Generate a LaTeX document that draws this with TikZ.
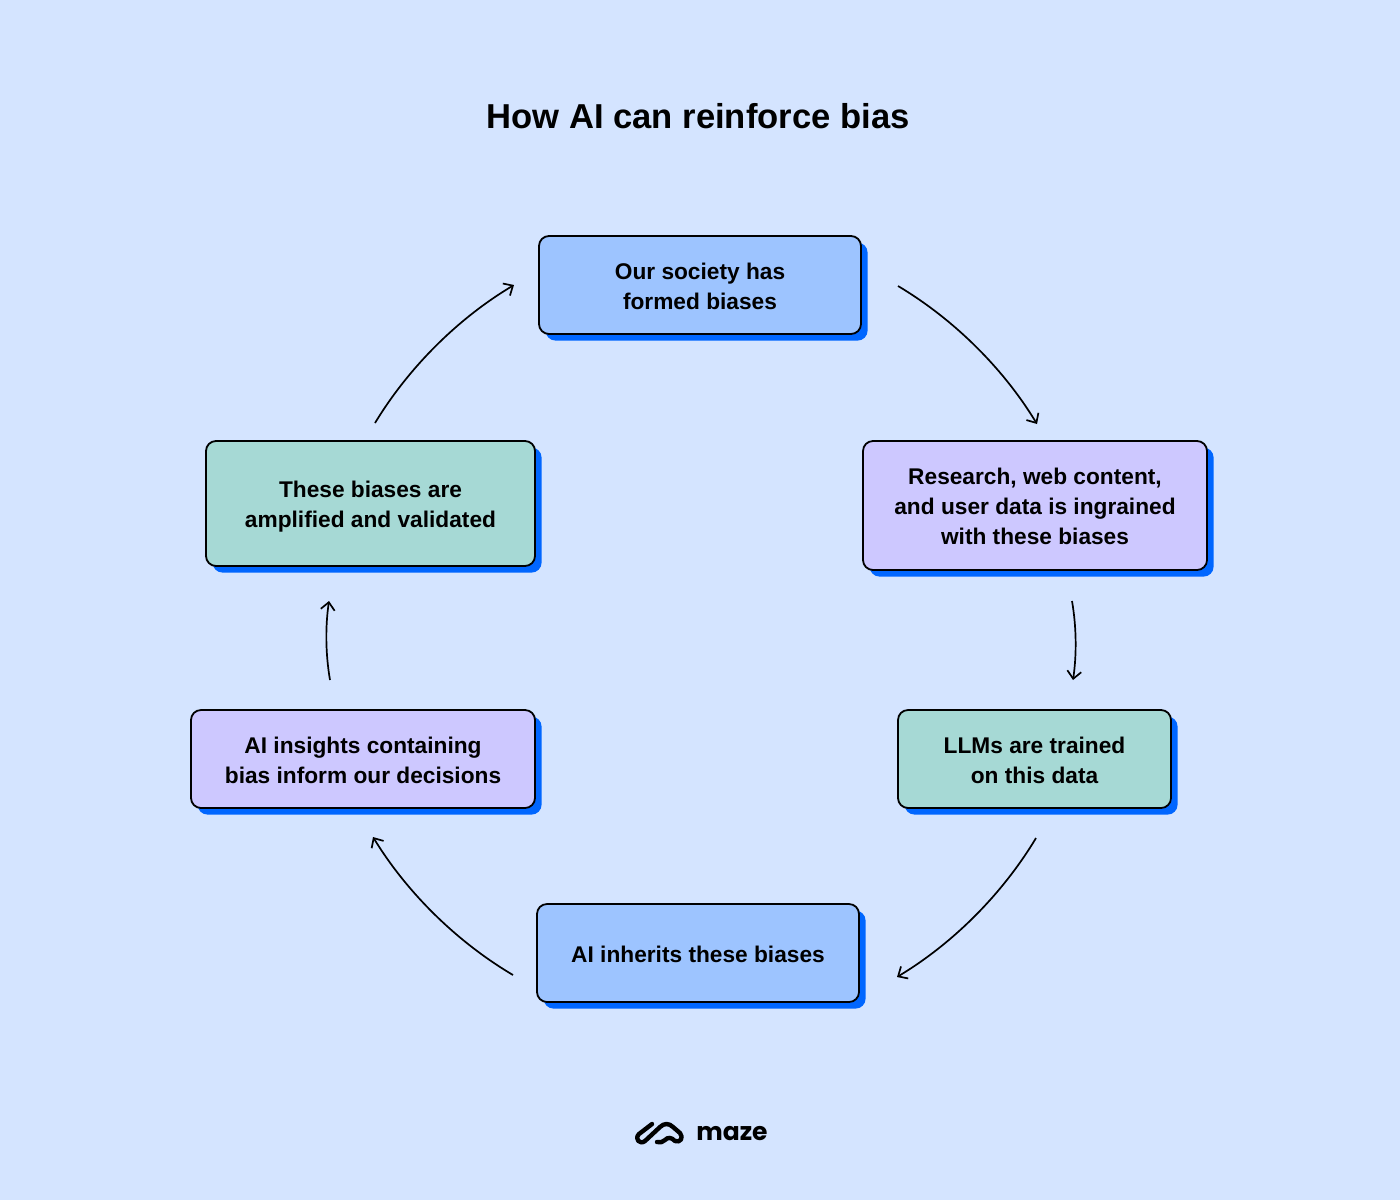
\documentclass[tikz,border=0pt]{standalone}
\usepackage{fontspec}
\setmainfont{Liberation Sans}
\newfontfamily\logofont{Poppins}
\usepackage{tikz}
\usetikzlibrary{shadows, arrows.meta, positioning}
\definecolor{backblue}{RGB}{212, 228, 255}
\definecolor{boxblue}{RGB}{157, 196, 255}
\definecolor{boxviolet}{RGB}{205, 200, 255}
\definecolor{boxgreen}{RGB}{166, 217, 213}
\definecolor{shadeblue}{RGB}{0, 102, 255}
\tikzset{
    stagenode/.style = {draw=black, rectangle, rounded corners=5pt, line width=0.9pt, align=center,
      font=\fontsize{11.35}{15}\selectfont\bfseries, inner sep=0pt,
      general shadow={shadow xshift=3.3pt, shadow yshift=-3.3pt, fill=shadeblue, draw=none}},
    textdrop/.style = {execute at begin node={\rule{0pt}{#1}}},
    titlenode/.style = {draw=none, font=\fontsize{17.3}{22}\selectfont\bfseries},
    connect/.style = {black, line width=0.85pt, looseness=0.85, -{Straight Barb[length=3.8pt,width=7pt]}},
    logoline/.style = {black, line width=2.2pt, line cap=round, line join=round}
}
\begin{document}
\begin{tikzpicture}[x=0.5pt, y=-0.5pt]
    \fill[backblue] (0,0) rectangle (1400,1200);
    \useasboundingbox (0,0) rectangle (1400,1200);

    \node [name=title, titlenode] at (698,116) {How AI can reinforce bias};

    \node [name=society, stagenode, textdrop=24.3pt, fill=boxblue, minimum width=161pt, minimum height=49pt] at (700,285) {Our society has\\formed biases};
    \node [name=research, stagenode, textdrop=39.3pt, fill=boxviolet, minimum width=172pt, minimum height=64.5pt] at (1035,505.5) {Research, web content,\\and user data is ingrained\\with these biases};
    \node [name=llms, stagenode, textdrop=24.3pt, fill=boxgreen, minimum width=136.5pt, minimum height=49pt] at (1034.5,759) {LLMs are trained\\on this data};
    \node [name=inherits, stagenode, textdrop=9.3pt, fill=boxblue, minimum width=161pt, minimum height=49pt] at (698,953) {AI inherits these biases};
    \node [name=insights, stagenode, textdrop=24.3pt, fill=boxviolet, minimum width=172pt, minimum height=49pt] at (363,759) {AI insights containing\\bias inform our decisions};
    \node [name=amplified, stagenode, textdrop=26.3pt, fill=boxgreen, minimum width=164.5pt, minimum height=62.5pt] at (370.5,503.5) {These biases are\\amplified and validated};

    \coordinate (a1) at (898,286);   \coordinate (b1) at (1037,424);
    \coordinate (a2) at (1072,601);  \coordinate (b2) at (1073,680);
    \coordinate (a3) at (1036,838);  \coordinate (b3) at (897,977);
    \coordinate (a4) at (513,975);   \coordinate (b4) at (373,837);
    \coordinate (a5) at (330,680);   \coordinate (b5) at (329,601);
    \coordinate (a6) at (375,423);   \coordinate (b6) at (514,285);
    \draw [connect] (a1) to[bend left=14] (b1);
    \draw [connect] (a2) to[bend left=9] (b2);
    \draw [connect] (a3) to[bend left=14] (b3);
    \draw [connect] (a4) to[bend left=14] (b4);
    \draw [connect] (a5) to[bend left=9] (b5);
    \draw [connect] (a6) to[bend left=14] (b6);

    % logo
    \draw [logoline] (652,1124) -- (639,1134) .. controls (634,1139) and (640,1145) .. (645,1141) -- (660,1127) .. controls (664,1123) and (669,1123) .. (673,1127) -- (680,1133) .. controls (684,1138) and (680,1143) .. (675,1141) .. controls (671,1137) and (668,1137) .. (665,1140) .. controls (663,1142) and (660,1143) .. (657,1142);
    \node [name=maze, draw=none, font=\logofont\fontsize{12.5}{16}\selectfont\bfseries] at (732,1133) {maze};
\end{tikzpicture}
\end{document}
